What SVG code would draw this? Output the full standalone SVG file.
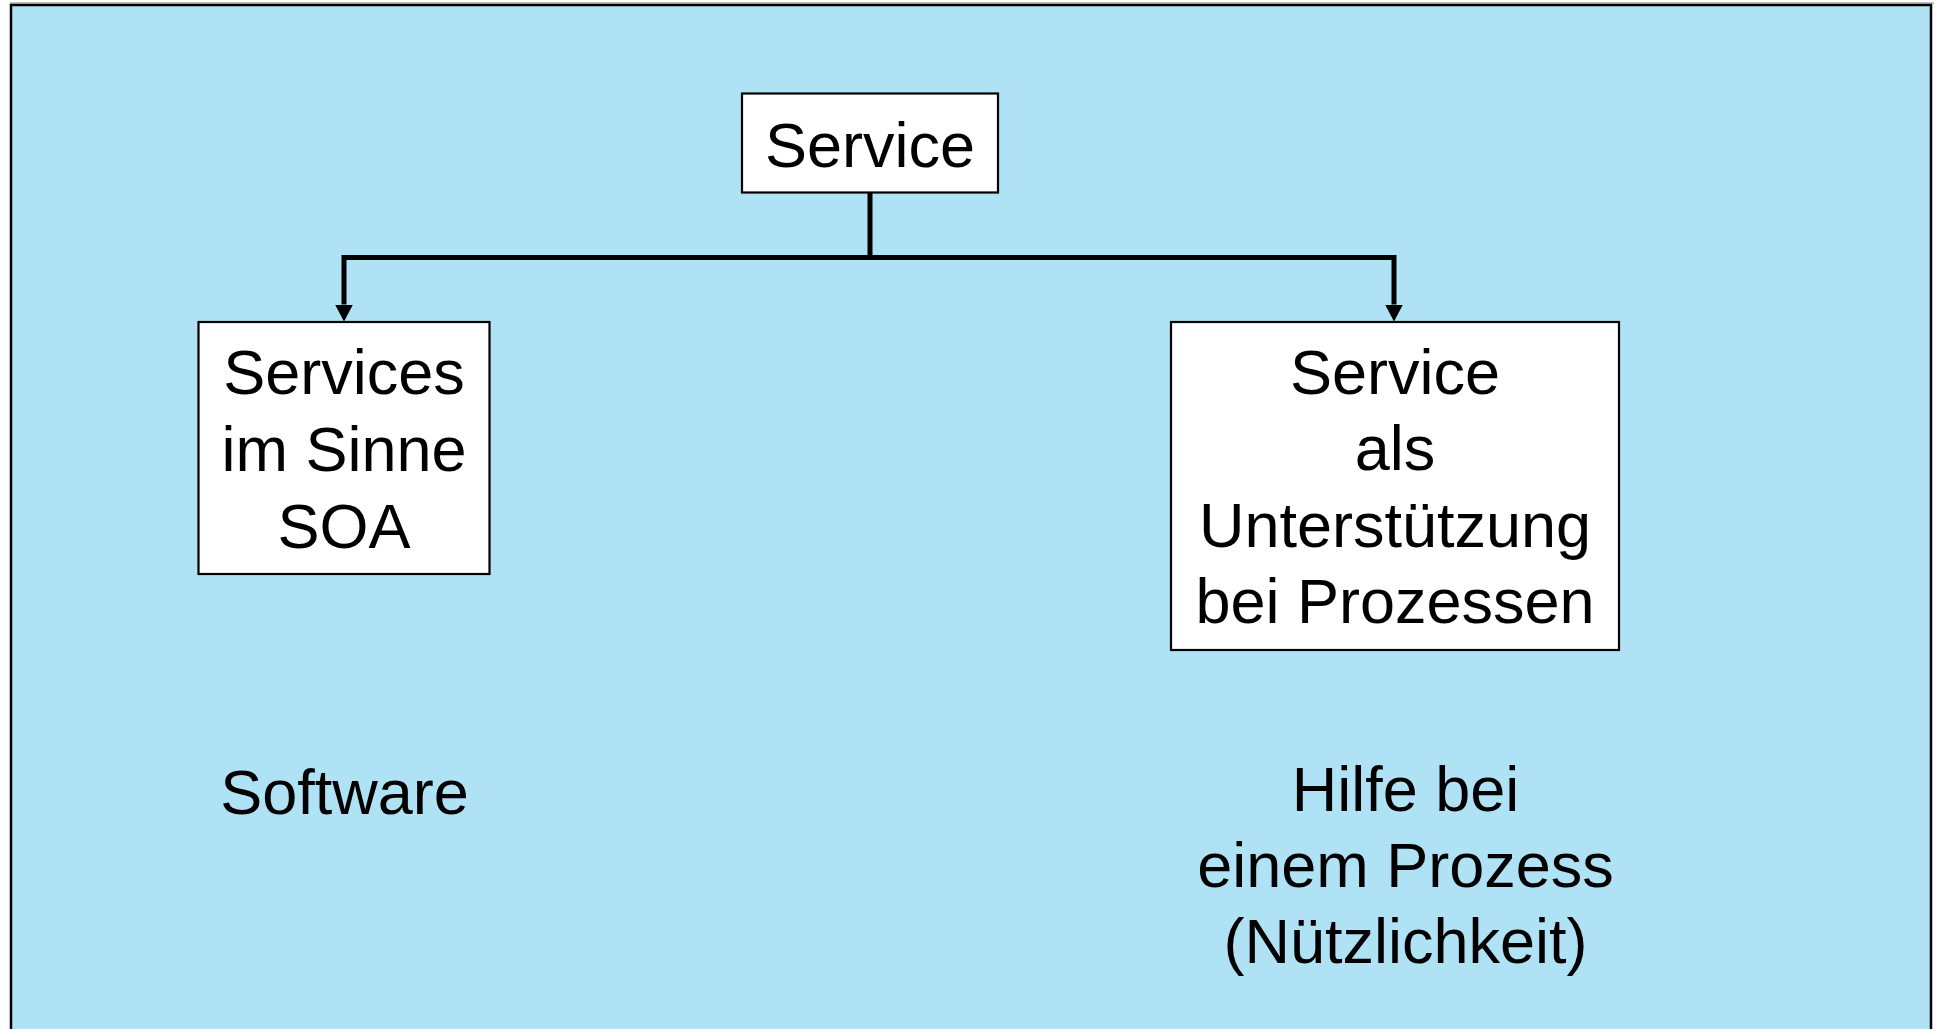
<svg xmlns="http://www.w3.org/2000/svg" width="1934" height="1029" viewBox="0 0 1934 1029">
<style>
.box{fill:#ffffff;stroke:#000000;stroke-width:2.2}
.t{font-family:"Liberation Sans",Arial,sans-serif;font-size:63px;fill:#000000;text-anchor:middle}
.con{fill:none;stroke:#000000;stroke-width:5}
</style>
<defs>
<marker id="ah" markerUnits="userSpaceOnUse" markerWidth="20" markerHeight="20" viewBox="0 0 20 20" refX="0" refY="10" orient="auto">
<path d="M0,1 L17,10 L0,19 Z" fill="#000000"/>
</marker>
</defs>
<rect x="0" y="0" width="1934" height="1029" fill="#ffffff"/>
<line x1="10" y1="3" x2="1934" y2="3" stroke="#b0b0b0" stroke-width="1.5"/>
<rect x="11" y="5" width="1920" height="1030" fill="#B0E2F5" stroke="#000000" stroke-width="2.5"/>
<g id="connectors">
<path class="con" d="M870,193 V257.5"/>
<path class="con" d="M870,257.5 H344 V304.5" marker-end="url(#ah)"/>
<path class="con" d="M870,257.5 H1394 V304.5" marker-end="url(#ah)"/>
</g>
<g id="node-service">
<rect class="box" x="742" y="93.5" width="256" height="99"/>
<text class="t" x="870" y="167">Service</text>
</g>
<g id="node-soa">
<rect class="box" x="198.5" y="322" width="291" height="252"/>
<text class="t" x="344" y="394">Services</text>
<text class="t" x="344" y="471">im Sinne</text>
<text class="t" x="344" y="547.5">SOA</text>
</g>
<g id="node-prozesse">
<rect class="box" x="1171" y="322" width="448" height="328"/>
<text class="t" x="1395" y="393.5">Service</text>
<text class="t" x="1395" y="470">als</text>
<text class="t" x="1395" y="547">Unterstützung</text>
<text class="t" x="1395" y="623">bei Prozessen</text>
</g>
<g id="label-software">
<text class="t" x="344.5" y="814">Software</text>
</g>
<g id="label-hilfe">
<text class="t" x="1405.5" y="810.5">Hilfe bei</text>
<text class="t" x="1405.5" y="886.5">einem Prozess</text>
<text class="t" x="1405.5" y="963">(Nützlichkeit)</text>
</g>
</svg>
